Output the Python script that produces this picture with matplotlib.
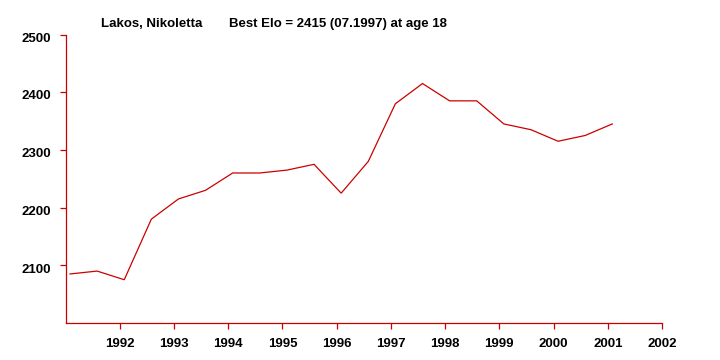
import matplotlib
matplotlib.use("Agg")
import matplotlib.pyplot as plt
import matplotlib.transforms as mtransforms

# Data: rating list dates (year + month/12) and Elo
years = [1991, 1991, 1992, 1992, 1993, 1993, 1994, 1994, 1995, 1995, 1996,
         1996, 1997, 1997, 1998, 1998, 1999, 1999, 2000, 2000, 2001]
months = [1, 7, 1, 7, 1, 7, 1, 7, 1, 7, 1, 7, 1, 7, 1, 7, 1, 7, 1, 7, 1]
elo = [2085, 2090, 2075, 2180, 2215, 2230, 2260, 2260, 2265, 2275, 2225,
       2280, 2380, 2415, 2385, 2385, 2345, 2335, 2315, 2325, 2345]
x_ticks = list(range(1992, 2003))
y_ticks = [2100, 2200, 2300, 2400, 2500]
title_name = "Lakos, Nikoletta"
title_best = "Best Elo = 2415 (07.1997) at age 18"

RED = "#CC0000"
FONT = "Liberation Sans"

x = [y + m / 12 for y, m in zip(years, months)]

fig = plt.figure(figsize=(7.2, 3.6), dpi=100)
ax = fig.add_axes([65.5 / 720, 1 - 323 / 360, (662 - 65.5) / 720, (323 - 34.5) / 360])

ax.plot(x, elo, color=RED, linewidth=0.9, solid_joinstyle="miter")

ax.set_xlim(1991, 2002)
ax.set_ylim(2000, 2500)
ax.set_xticks(x_ticks)
ax.set_yticks(y_ticks)
ax.set_xticklabels([str(t) for t in x_ticks])
ax.set_yticklabels([str(t) for t in y_ticks])

for s in ["top", "right"]:
    ax.spines[s].set_visible(False)
for s in ["left", "bottom"]:
    ax.spines[s].set_color(RED)
    ax.spines[s].set_linewidth(0.9)

ax.tick_params(axis="both", direction="out", length=4, width=0.9, color=RED,
               labelsize=9.5, pad=6.5)
for lab in ax.get_xticklabels() + ax.get_yticklabels():
    lab.set_fontfamily(FONT)
    lab.set_fontweight("bold")
    lab.set_color("black")

off = mtransforms.ScaledTranslation(0, -2 / 72, fig.dpi_scale_trans)
for lab in ax.get_yticklabels():
    lab.set_transform(lab.get_transform() + off)

fig.text(101 / 720, 1 - 27 / 360, title_name, fontsize=9.5, fontweight="bold",
         family=FONT, ha="left", va="baseline")
fig.text(229 / 720, 1 - 27 / 360, title_best, fontsize=9.5, fontweight="bold",
         family=FONT, ha="left", va="baseline")

fig.savefig("out.png", dpi=100, facecolor="white")
